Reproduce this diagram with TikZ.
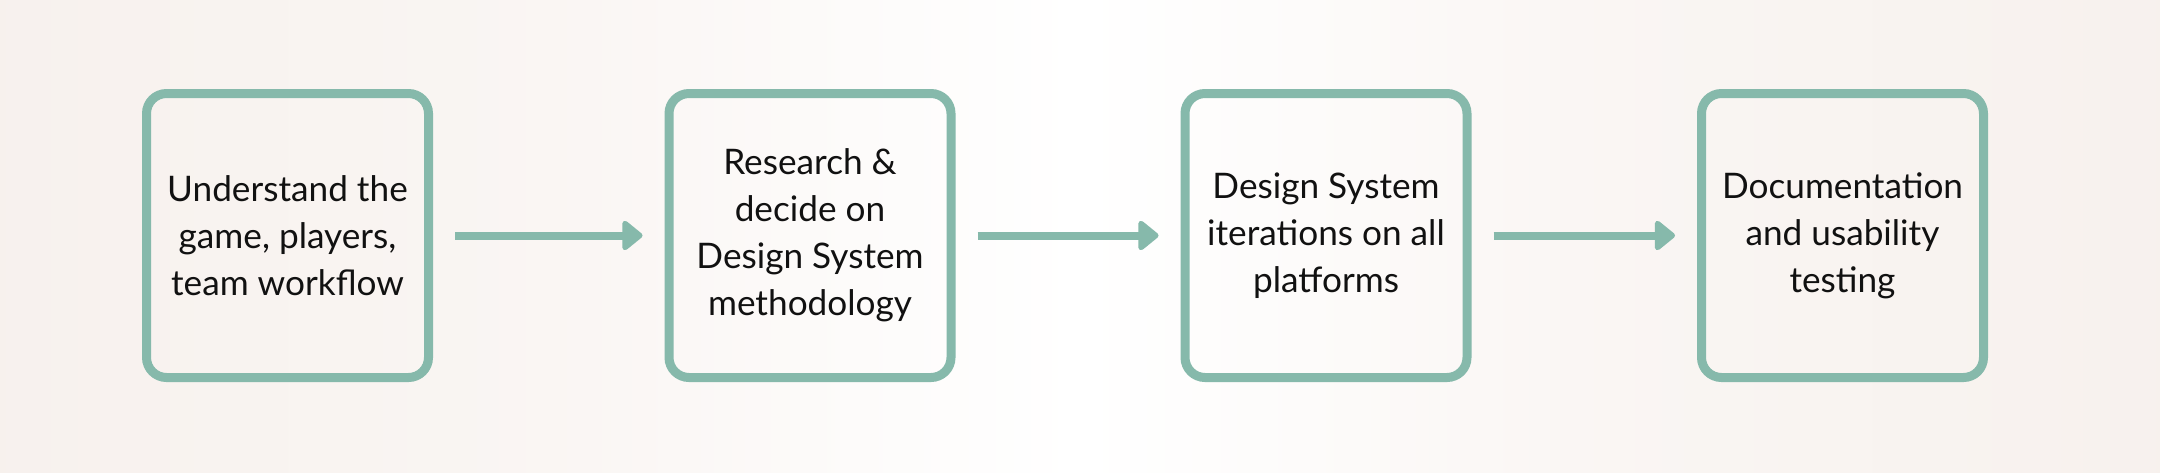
\documentclass[tikz,border=0pt]{standalone}
\usepackage{fontspec}
\setmainfont{Lato}
\usetikzlibrary{arrows.meta}
\definecolor{boxgreen}{RGB}{134,185,171}
\definecolor{bgedge}{RGB}{242,232,226}
\definecolor{txt}{RGB}{17,17,17}
\pgfdeclarehorizontalshading{bgshade}{100bp}{%
  color(0bp)=(bgedge); color(38bp)=(white!60!bgedge); color(50bp)=(white);
  color(62bp)=(white!60!bgedge); color(100bp)=(bgedge)}
\tikzset{
  px/.style={x=0.5pt,y=-0.5pt},
  stepbox/.style={draw=boxgreen, line width=4.5pt, rounded corners=10pt,
    minimum width=141pt, minimum height=142pt, inner sep=0pt,
    align=center, text=txt, font=\fontsize{17.6}{23.5}\selectfont},
  flow/.style={draw=boxgreen, line width=4pt,
    -{Triangle[length=11pt,width=17pt,round]}}
}
\begin{document}
\begin{tikzpicture}[px]
\shade[shading=bgshade] (0,0) rectangle (2160,472);
\useasboundingbox (0,0) rectangle (2160,472);
\node[stepbox] (b1) at (287.5,235.5) {Understand the\\game, players,\\team workflow};
\node[stepbox] (b2) at (810,235.5) {Research \&\\decide on\\Design System\\methodology};
\node[stepbox] (b3) at (1326,235.5) {Design System\\iterations on all\\platforms};
\node[stepbox] (b4) at (1842.5,235.5) {Documentation\\and usability\\testing};
\draw[flow] ([xshift=11pt]b1.east) -- ([xshift=-11pt]b2.west);
\draw[flow] ([xshift=11pt]b2.east) -- ([xshift=-11pt]b3.west);
\draw[flow] ([xshift=11pt]b3.east) -- ([xshift=-11pt]b4.west);
\end{tikzpicture}
\end{document}
